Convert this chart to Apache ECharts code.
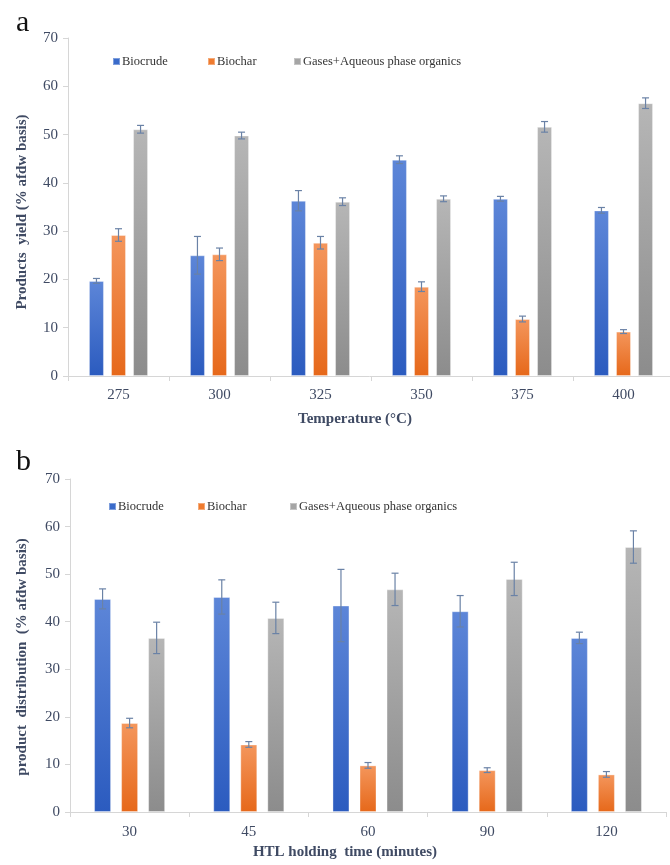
<!DOCTYPE html>
<html>
<head>
<meta charset="utf-8">
<title>HTL product yields</title>
<script src="https://cdn.jsdelivr.net/npm/echarts@6/dist/echarts.min.js"></script>
<style>
  html, body { margin: 0; padding: 0; background: #ffffff; }
  #chart { width: 670px; height: 865px; }
</style>
</head>
<body>
<div id="chart"></div>
<script>
// Panel a: effect of temperature
const temps = ['275', '300', '325', '350', '375', '400'];
const tempBiocrude = [19.7, 25.0, 36.3, 44.8, 36.7, 34.3];
const tempBiocrudeErr = [0.5, 3.9, 2.1, 0.8, 0.5, 0.6];
const tempBiochar = [29.2, 25.2, 27.6, 18.5, 11.8, 9.2];
const tempBiocharErr = [1.3, 1.3, 1.3, 1.0, 0.6, 0.4];
const tempGases = [51.1, 49.8, 36.1, 36.7, 51.6, 56.5];
const tempGasesErr = [0.8, 0.7, 0.8, 0.6, 1.1, 1.1];

// Panel b: effect of holding time
const times = ['30', '45', '60', '90', '120'];
const timeBiocrude = [44.8, 45.2, 43.4, 42.2, 36.6];
const timeBiocrudeErr = [2.1, 3.6, 7.6, 3.3, 1.2];
const timeBiochar = [18.7, 14.2, 9.8, 8.8, 7.9];
const timeBiocharErr = [1.0, 0.6, 0.6, 0.5, 0.6];
const timeGases = [36.6, 40.8, 46.8, 49.0, 55.7];
const timeGasesErr = [3.3, 3.3, 3.4, 3.5, 3.4];

const yTicks = { min: 0, max: 70, interval: 10 };
const seriesNames = ['Biocrude', 'Biochar', 'Gases+Aqueous phase organics'];

const serif = '"Liberation Serif", "DejaVu Serif", serif';
const labelColor = '#3f4a63';
const axisGray = '#d6d6d6';
const errColor = '#6a82a6';

function grad(top, bottom) {
  return new echarts.graphic.LinearGradient(0, 0, 0, 1, [
    { offset: 0, color: top },
    { offset: 1, color: bottom }
  ]);
}
const fills = [
  grad('#5d86d8', '#2b5bbf'),
  grad('#f4965c', '#e6681a'),
  grad('#b6b6b6', '#8c8c8c')
];
const legendColors = ['#3a6bca', '#ef7b2f', '#a5a5a5'];

const panels = [
  { cats: temps, vals: [tempBiocrude, tempBiochar, tempGases],
    errs: [tempBiocrudeErr, tempBiocharErr, tempGasesErr],
    barWidth: 15, barGap: 0.47 },
  { cats: times, vals: [timeBiocrude, timeBiochar, timeGases],
    errs: [timeBiocrudeErr, timeBiocharErr, timeGasesErr],
    barWidth: 17, barGap: 0.59 }
];

function xAxisFor(idx, cats, margin) {
  return {
    type: 'category', gridIndex: idx, data: cats,
    axisLine: { lineStyle: { color: axisGray, width: 1 } },
    axisTick: { show: true, length: 5, lineStyle: { color: axisGray } },
    axisLabel: { fontFamily: serif, fontSize: 15, color: labelColor, margin: margin },
    splitLine: { show: false }
  };
}
function yAxisFor(idx) {
  return {
    type: 'value', gridIndex: idx,
    min: yTicks.min, max: yTicks.max, interval: yTicks.interval,
    axisLine: { show: true, lineStyle: { color: axisGray, width: 1 } },
    axisTick: { show: true, length: 5, lineStyle: { color: axisGray } },
    axisLabel: { fontFamily: serif, fontSize: 15, color: labelColor, margin: 10 },
    splitLine: { show: false }
  };
}

const series = [];
panels.forEach((p, gi) => {
  p.vals.forEach((vals, si) => {
    series.push({
      type: 'bar', name: seriesNames[si],
      xAxisIndex: gi, yAxisIndex: gi,
      data: vals,
      barWidth: p.barWidth,
      barGap: Math.round(p.barGap * 100) + '%',
      itemStyle: { color: fills[si], borderColor: 'rgba(255,255,255,0.35)', borderWidth: 1 },
      emphasis: { disabled: true },
      z: 2
    });
  });
  // error bars drawn over each bar, shifted to that bar's slot in the group
  p.vals.forEach((vals, si) => {
    const step = p.barWidth * (1 + p.barGap);
    const shift = (si - 1) * step;
    series.push({
      type: 'custom', name: seriesNames[si] + ' error',
      xAxisIndex: gi, yAxisIndex: gi,
      data: vals.map((v, i) => [i, v, p.errs[si][i]]),
      z: 5,
      silent: true,
      renderItem: function (params, api) {
        const xi = api.value(0), v = api.value(1), e = api.value(2);
        const hi = api.coord([xi, v + e]);
        const lo = api.coord([xi, v - e]);
        const x = hi[0] + shift;
        const cap = 3.5;
        const style = { stroke: errColor, lineWidth: 1.2 };
        return {
          type: 'group',
          children: [
            { type: 'line', shape: { x1: x, y1: hi[1], x2: x, y2: lo[1] }, style: style },
            { type: 'line', shape: { x1: x - cap, y1: hi[1], x2: x + cap, y2: hi[1] }, style: style },
            { type: 'line', shape: { x1: x - cap, y1: lo[1], x2: x + cap, y2: lo[1] }, style: style }
          ]
        };
      }
    });
  });
});

// one legend per entry so each key sits in its own spot
function legendItem(name, color, left, top) {
  return {
    left: left, top: top, itemWidth: 7, itemHeight: 7,
    icon: 'rect',
    selectedMode: false,
    textStyle: { fontFamily: serif, fontSize: 12.5, color: '#333333', padding: [0, 0, 0, -3] },
    data: [{ name: name, itemStyle: { color: color } }]
  };
}
const legendLeftA = [107, 202, 288];
const legendLeftB = [103, 192, 284];
const legends = [];
seriesNames.forEach((n, i) => legends.push(legendItem(n, legendColors[i], legendLeftA[i], 50)));
seriesNames.forEach((n, i) => legends.push(legendItem(n, legendColors[i], legendLeftB[i], 495)));

const titleFont = 'bold 15px ' + serif;

const option = {
  animation: false,
  backgroundColor: '#ffffff',
  grid: [
    { left: 68, top: 38, height: 338, width: 606, outerBoundsMode: 'none' },
    { left: 70, top: 479, height: 333, width: 596, outerBoundsMode: 'none' }
  ],
  xAxis: [xAxisFor(0, temps, 12), xAxisFor(1, times, 13)],
  yAxis: [yAxisFor(0), yAxisFor(1)],
  legend: legends,
  series: series,
  graphic: [
    { type: 'text', left: 16, top: 8, style: { text: 'a', font: '30px ' + serif, fill: '#111111' } },
    { type: 'text', left: 16, top: 447, style: { text: 'b', font: '30px ' + serif, fill: '#111111' } },
    { type: 'text', x: 355, y: 419,
      style: { text: 'Temperature (\u00b0C)', font: titleFont, fill: labelColor, align: 'center', verticalAlign: 'middle' } },
    { type: 'text', x: 345, y: 852,
      style: { text: 'HTL holding  time (minutes)', font: titleFont, fill: labelColor, align: 'center', verticalAlign: 'middle' } },
    { type: 'text', x: 22, y: 212, rotation: Math.PI / 2,
      style: { text: 'Products  yield (% afdw basis)', font: titleFont, fill: labelColor, align: 'center', verticalAlign: 'middle' } },
    { type: 'text', x: 22, y: 657, rotation: Math.PI / 2,
      style: { text: 'product  distribution  (% afdw basis)', font: titleFont, fill: labelColor, align: 'center', verticalAlign: 'middle' } }
  ]
};

const chart = echarts.init(document.getElementById('chart'), null, { renderer: 'canvas' });
chart.setOption(option);
</script>
</body>
</html>
